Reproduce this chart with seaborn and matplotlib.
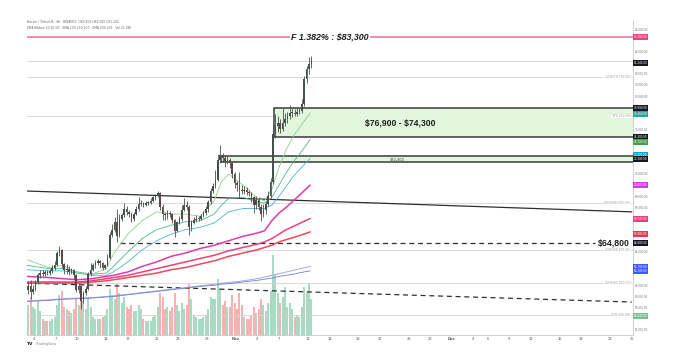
import numpy as np
import pandas as pd
import matplotlib
matplotlib.use("Agg")
import matplotlib.pyplot as plt
import matplotlib.transforms as mtransforms
from matplotlib.patches import Rectangle
import seaborn as sns

sns.set_theme(style="white")
plt.rcParams['font.family'] = ['DejaVu Sans']
plt.rcParams['text.parse_math'] = False

# ---------------- data (BTC, 8h candles from 3 Oct 2024, prices in $k) ----------------
open_first = 60.6
close = [60.9, 60.4, 60.7, 61.3, 61.9, 62.1, 62.0, 62.2, 62.1, 62.3, 62.6, 62.8,
         63.9, 64.2, 62.9, 62.4, 62.5, 62.2, 62.4, 61.9, 60.6, 60.9, 59.6, 60.3,
         60.7, 62.0, 62.4, 62.8, 63.0, 63.2, 63.0, 62.6, 62.8, 63.5, 65.5, 66.0,
         66.7, 65.4, 67.0, 67.3, 67.9, 67.6, 67.4, 67.0, 67.4, 67.9, 68.3, 68.4,
         68.2, 68.4, 68.4, 68.6, 68.9, 69.0, 69.3, 68.0, 67.4, 67.3, 67.5, 67.4,
         66.9, 65.9, 66.7, 67.0, 67.8, 68.2, 68.0, 66.2, 66.6, 66.9, 67.0, 67.0,
         67.2, 67.5, 67.9, 68.5, 69.5, 69.9, 70.5, 72.3, 72.7, 72.4, 72.2, 72.3,
         72.0, 71.0, 70.2, 70.0, 69.6, 69.5, 69.6, 69.4, 69.3, 68.9, 68.2, 68.7,
         68.0, 67.4, 67.8, 68.3, 69.0, 70.3, 74.6, 75.3, 75.6, 75.0, 75.6, 75.9,
         76.2, 76.5, 76.5, 76.4, 76.6, 76.7, 77.3, 79.5, 80.4, 80.9, 81.2]
high = [61.3, 61.5, 61.0, 61.5, 62.1, 62.4, 62.4, 62.4, 62.4, 62.5, 62.8, 63.2,
        64.1, 64.5, 64.3, 63.0, 62.9, 62.7, 62.6, 62.5, 62.0, 61.2, 61.0, 60.5,
        60.9, 62.2, 63.0, 63.0, 63.3, 63.4, 63.3, 63.1, 62.9, 63.8, 65.8, 66.5,
        67.1, 67.9, 67.4, 67.5, 68.4, 68.1, 67.8, 67.6, 67.6, 68.1, 68.9, 68.7,
        68.5, 68.6, 68.6, 68.8, 69.0, 69.2, 69.5, 69.4, 68.3, 67.6, 67.8, 67.7,
        67.5, 67.0, 66.8, 67.2, 68.2, 68.8, 68.6, 68.2, 66.9, 67.1, 67.3, 67.2,
        67.4, 67.7, 68.1, 68.7, 69.7, 70.2, 71.4, 72.8, 73.6, 72.9, 72.7, 72.6,
        72.4, 72.1, 71.2, 70.4, 71.2, 70.0, 69.9, 69.8, 69.6, 69.4, 69.0, 69.0,
        68.9, 68.3, 68.3, 68.6, 69.5, 70.6, 75.4, 76.4, 76.2, 75.9, 76.9, 76.5,
        76.6, 77.2, 76.9, 76.8, 76.9, 76.9, 77.7, 79.8, 80.7, 81.5, 81.6]
low = [60.2, 59.8, 60.2, 60.5, 61.1, 61.7, 61.8, 61.8, 61.9, 61.9, 62.1, 62.4,
       62.7, 63.6, 62.6, 62.0, 62.0, 61.9, 62.0, 61.6, 60.4, 60.3, 58.9, 59.4,
       60.1, 60.6, 61.8, 62.3, 62.6, 62.8, 62.6, 62.4, 62.5, 62.7, 63.4, 65.3,
       65.8, 64.9, 65.3, 66.8, 67.1, 67.3, 67.1, 66.7, 66.8, 67.3, 67.7, 68.1,
       68.0, 68.1, 68.2, 68.3, 68.5, 68.7, 68.9, 67.8, 66.9, 66.9, 67.0, 67.1,
       66.6, 65.3, 65.8, 66.5, 66.8, 67.7, 67.8, 65.5, 65.9, 66.5, 66.7, 66.8,
       66.9, 67.1, 67.3, 67.6, 68.3, 69.3, 69.7, 70.4, 72.0, 72.1, 71.6, 71.9,
       71.5, 70.6, 69.7, 69.5, 68.8, 69.2, 69.2, 69.1, 69.0, 68.5, 67.5, 67.9,
       67.8, 66.8, 67.1, 67.4, 68.1, 68.8, 70.1, 74.2, 74.8, 74.7, 74.9, 75.3,
       75.6, 75.9, 76.1, 76.2, 76.2, 76.4, 76.5, 77.1, 79.2, 80.0, 80.5]
volume = [15, 19, 14, 13, 17, 12, 8, 7, 7, 7, 8, 9, 15, 20, 22, 14, 13, 12,
          11, 13, 18, 15, 24, 17, 13, 19, 14, 9, 8, 8, 8, 9, 10, 13, 23, 20,
          18, 26, 21, 16, 19, 14, 13, 15, 12, 12, 15, 13, 8, 7, 7, 7, 9, 10,
          14, 21, 19, 13, 14, 12, 14, 21, 15, 12, 16, 13, 15, 26, 18, 10, 9, 8,
          8, 9, 10, 13, 19, 18, 18, 28, 23, 15, 17, 14, 14, 20, 16, 13, 21, 15,
          9, 8, 8, 10, 14, 11, 13, 18, 15, 12, 16, 22, 40, 30, 21, 16, 19, 24,
          14, 16, 13, 9, 10, 9, 14, 24, 21, 26, 18]

# moving averages sampled at day offsets from 3 Oct
ma_days = [0, 3, 5, 7, 9, 11, 12, 14, 16, 18, 20, 22, 24, 26, 27, 28, 30, 32, 33,
           34, 35, 36, 37, 38, 39.33]
ema_fast = [63.3, 62.6, 62.8, 62.1, 62.0, 62.5, 63.8, 65.6, 66.8, 67.6, 67.4, 67.4,
            67.2, 68.6, 70.3, 71.0, 70.0, 68.8, 68.6, 69.6, 71.6, 73.2, 74.4, 75.3, 76.5]
ema_mid = [62.8, 62.5, 62.5, 62.2, 62.0, 62.1, 62.7, 64.0, 65.2, 66.0, 66.4, 66.7,
           66.8, 67.4, 68.2, 68.8, 68.9, 68.5, 68.4, 68.9, 70.0, 71.1, 72.1, 72.9, 74.1]
ema_slow = [62.4, 62.3, 62.3, 62.1, 61.9, 61.9, 62.2, 63.1, 64.2, 65.0, 65.6, 66.0,
            66.2, 66.6, 67.1, 67.6, 67.9, 67.9, 67.9, 68.2, 69.0, 69.9, 70.8, 71.5, 72.4]
ma_magenta = [61.8, 61.7, 61.6, 61.5, 61.6, 61.8, 61.9, 62.2, 62.7, 63.1, 63.6, 63.9,
              64.3, 64.6, 64.8, 65.0, 65.4, 65.7, 65.9, 66.8, 67.5, 68.0, 68.6, 69.2, 70.0]
ma_pink = [61.3, 61.3, 61.3, 61.3, 61.4, 61.6, 61.7, 61.9, 62.2, 62.5, 62.8, 63.1,
           63.4, 63.7, 63.9, 64.1, 64.4, 64.7, 64.9, 65.2, 65.6, 66.0, 66.3, 66.6, 67.0]
ma_red = [61.2, 61.2, 61.2, 61.2, 61.3, 61.4, 61.5, 61.7, 61.9, 62.1, 62.4, 62.6,
          62.9, 63.2, 63.4, 63.6, 63.9, 64.2, 64.4, 64.6, 64.9, 65.1, 65.3, 65.5, 65.8]
ma_lavender = [59.6, 59.7, 59.8, 59.85, 59.9, 60.0, 60.05, 60.2, 60.35, 60.5, 60.65, 60.8,
               60.95, 61.1, 61.2, 61.25, 61.4, 61.6, 61.75, 61.9, 62.05, 62.2, 62.35, 62.5, 62.7]
ma_blue = [59.55, 59.65, 59.75, 59.8, 59.85, 59.95, 60.0, 60.15, 60.3, 60.45, 60.6, 60.75,
           60.9, 61.0, 61.1, 61.15, 61.3, 61.45, 61.55, 61.65, 61.8, 61.9, 62.0, 62.15, 62.3]

# drawn levels / trend lines (day offsets, $k)
fib_level = 83.3
zone_hi, zone_lo, zone_start = 76.9, 74.3, 34.3
zone2_hi, zone2_lo, zone2_start = 72.6, 72.05, 26.9
support = 64.8
support_days = [12.9, 78.9]
trend_days = [0, 84]
trend_solid = [69.47, 67.6]
trend_dashed = [61.2, 59.5]
fib_lines = [81.15, 79.71, 76.21, 68.39, 64.17, 61.21, 58.34]
fib_texts = ["", "1.236(79,710.00)", "1(76,210.00)", "0.618(68,390.00)",
             "0.382(64,170.00)", "0.236(61,210.00)", "0(58,340.00)"]
tick_days = [1, 4, 7, 11, 14, 18, 21, 25, 29, 32, 35, 39, 42, 46, 49, 53, 56, 59,
             62, 64, 67, 70, 74, 77, 81, 84]
tick_labels = ["4", "7", "10", "14", "17", "21", "24", "28", "Nov", "4", "7", "11",
               "14", "18", "21", "25", "28", "Dec", "4", "6", "9", "12", "16", "19",
               "23", "26"]
tags = [(83.3, '#e8457a', '83,300.00'), (80.97, '#131722', '81,245.00'),
        (76.9, '#131722', '76,900.00'), (76.39, '#26a69a', '76,460.00'),
        (74.3, '#131722', '74,300.00'), (73.87, '#43a047', '74,100.00'),
        (72.7, '#00acc1', '72,400.00'), (72.35, '#131722', '72,300.00'),
        (70.0, '#d63ae0', '70,000.00'), (66.96, '#ec407a', '67,000.00'),
        (65.6, '#e53950', '65,800.00'), (64.8, '#131722', '64,800.00'),
        (62.62, '#3d5afe', '62,700.00'), (62.3, '#3d5afe', '62,300.00'),
        (58.25, '#7dbf95', '58,340.00')]

# ---------------- figure ----------------
W, H = 673, 360
L, R, T, B = 27, 633, 20, 335
fig = plt.figure(figsize=(W / 100, H / 100), dpi=100)
fig.patch.set_facecolor('white')
rect = [L / W, 1 - B / H, (R - L) / W, (B - T) / H]
axv = fig.add_axes(rect)
ax = fig.add_axes(rect)
ax.patch.set_visible(False)

XMIN, XMAX = -0.5, 252.0
YMIN, YMAX = 56.54, 84.83


def dx(d):
    return np.asarray(d, dtype=float) * 3 - 0.5


def fx(px):
    return (px - L) / (R - L)


n = len(close)
idx = np.arange(n)
opens = np.array([open_first] + close[:-1])
cl = np.array(close)
up = cl >= opens

# volume
vcol = np.where(up, '#3fae7e', '#ef5350')
axv.bar(idx, volume, width=0.8, color=vcol, alpha=0.45, linewidth=0)
axv.set_xlim(XMIN, XMAX)
axv.set_ylim(0, 157.5)
axv.axis('off')

bl = mtransforms.blended_transform_factory(ax.transAxes, ax.transData)

# horizontal fib lines
for lv, tx in zip(fib_lines, fib_texts):
    ax.axhline(lv, color='#d4d4d4', lw=0.6, zorder=1)
    if tx:
        ax.text(fx(631), lv, tx, transform=bl, ha='right', va='center', fontsize=2.2,
                color='#9a9a9a', bbox=dict(facecolor='white', edgecolor='none', pad=0.3), zorder=2)

# zones
ax.add_patch(Rectangle((dx(zone_start), zone_lo), XMAX - dx(zone_start) + 5, zone_hi - zone_lo,
                       facecolor='#e2f6de', edgecolor='#3a3a3a', lw=1.1, zorder=1.5))
ax.add_patch(Rectangle((dx(zone2_start), zone2_lo), XMAX - dx(zone2_start) + 5, zone2_hi - zone2_lo,
                       facecolor='#e2f6de', edgecolor='#3a3a3a', lw=1.1, zorder=1.5))

# trend lines
sns.lineplot(x=dx(trend_days), y=trend_solid, ax=ax, color='#2f2f2f', lw=0.9, zorder=3)
ax.plot(dx(trend_days), trend_dashed, color='#2f2f2f', lw=0.9, ls=(0, (4, 3)), zorder=3)
ax.plot(dx(support_days), [support, support], color='#2f2f2f', lw=0.9, ls=(0, (4, 3)), zorder=3)

# fib 1.382 line
ax.axhline(fib_level, color='#e8709a', lw=1.1, zorder=3)

# moving averages
mx = dx(ma_days)
for vals, col, lw in [(ma_lavender, '#a9a4e3', 0.7), (ma_blue, '#6f7fd6', 0.6),
                      (ma_red, '#ec4a5c', 1.1), (ma_pink, '#ef3f7f', 1.1),
                      (ma_magenta, '#e23aa8', 1.1),
                      (ema_slow, '#4fb3cf', 0.6), (ema_mid, '#4fb394', 0.6),
                      (ema_fast, '#8ccf8f', 0.6)]:
    sns.lineplot(x=mx, y=vals, ax=ax, color=col, lw=lw, zorder=4, sort=False, estimator=None)

# candles
ccol = np.where(up, '#44524b', '#5a4848')
ax.vlines(idx, low, high, color=ccol, lw=0.6, zorder=5)
body = np.where(np.abs(cl - opens) < 0.06, 0.06, cl - opens)
ax.bar(idx, body, bottom=opens, width=0.62, color=ccol, linewidth=0, zorder=6)

# texts
ax.text(fx(330), fib_level, 'F 1.382% : $83,300', transform=bl, ha='center', va='center',
        fontsize=6.4, fontweight='bold', fontstyle='italic', family='Liberation Sans', color='#1e1e1e',
        bbox=dict(facecolor='white', edgecolor='none', pad=1.2), zorder=7)
ax.text(fx(400), (zone_hi + zone_lo) / 2, '$76,900 - $74,300', transform=bl, ha='center', va='center',
        fontsize=6.2, fontweight='bold', family='Liberation Sans', color='#1e1e1e', zorder=7)
ax.text(fx(397), (zone2_hi + zone2_lo) / 2, '$72,300', transform=bl, ha='center', va='center',
        fontsize=2.6, color='#333333', zorder=7)
ax.text(fx(614), support, '$64,800', transform=bl, ha='center', va='center',
        fontsize=6.3, fontweight='bold', family='Liberation Sans', color='#1e1e1e',
        bbox=dict(facecolor='white', edgecolor='none', pad=0.6), zorder=7)

# right-side price tags
for p, c, t in tags:
    ax.text(fx(634), p, t, transform=bl, ha='left', va='center', fontsize=2.0, color='white',
            bbox=dict(boxstyle='square,pad=0.3', facecolor=c, edgecolor='none'), zorder=8, clip_on=False)

# axes styling
ax.set_xlim(XMIN, XMAX)
ax.set_ylim(YMIN, YMAX)
ax.set_xlabel('')
ax.set_ylabel('')
for s in ['top', 'left']:
    ax.spines[s].set_visible(False)
for s in ['bottom', 'right']:
    ax.spines[s].set_color('#d0d0d0')
    ax.spines[s].set_linewidth(0.7)
ax.set_xticks(dx(tick_days))
ax.set_xticklabels(tick_labels, fontsize=2.6, color='#555555')
for lab in ax.get_xticklabels():
    if lab.get_text() in ('Nov', 'Dec'):
        lab.set_fontweight('bold')
ax.yaxis.tick_right()
tag_prices = np.array([p for p, _, _ in tags])
yt = [v for v in range(57, 85) if np.min(np.abs(tag_prices - v)) > 0.45]
ax.set_yticks(yt)
ax.set_yticklabels([f"{v * 1000:,.2f}" for v in yt], fontsize=2.0, color='#777777')
ax.tick_params(axis='both', length=0, pad=1.5)

# header / footer texts
fig.text(L / W, 1 - 22 / H, 'Bitcoin / TetherUS · 8h · BINANCE  O80,403 H81,560 C81,245',
         fontsize=2.2, color='#666666', va='center')
fig.text(L / W, 1 - 28 / H, 'EMA Ribbon 20 30 50 · SMA 100 150 200 · EMA 200 233 · Vol 22.18K',
         fontsize=2.2, color='#666666', va='center')
fig.text(L / W, 1 - 344 / H, 'TV', fontsize=3.2, fontweight='bold', color='#131722', va='center')
fig.text((L + 9) / W, 1 - 344 / H, 'TradingView', fontsize=2.4, color='#888888', va='center')

fig.savefig('out.png', dpi=100, facecolor='white')
